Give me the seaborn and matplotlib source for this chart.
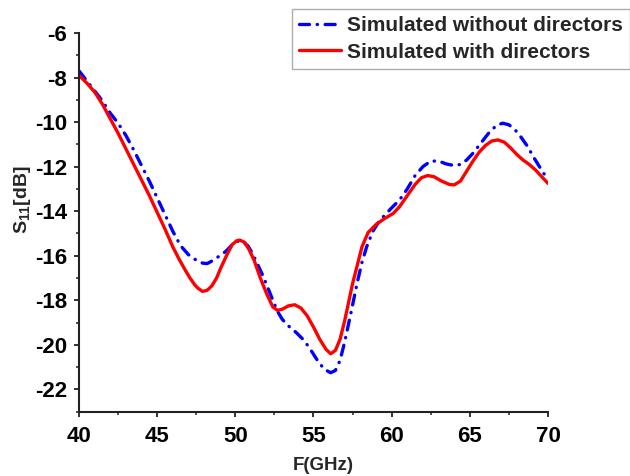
import numpy as np
import pandas as pd
import matplotlib
matplotlib.use("Agg")
import matplotlib.pyplot as plt
import seaborn as sns

# S11 of the antenna without directors (GHz, dB)
freq_without = [40, 40.5, 41, 41.5, 42, 42.5, 43, 43.5, 44, 44.5, 45, 45.5, 46, 46.5,
                47, 47.5, 47.9, 48.2, 48.6, 49.0, 49.4, 49.8, 50.1, 50.4, 50.8, 51.1,
                51.4, 51.7, 52.0, 52.4, 52.7, 53.0, 53.4, 53.9, 54.4, 54.8, 55.3,
                55.7, 56.1, 56.4, 56.7, 57.0, 57.4, 57.8, 58.1, 58.4, 58.8, 59.2,
                59.6, 60.0, 60.5, 61.0, 61.5, 62.0, 62.5, 63.0, 63.5, 64.0, 64.4,
                64.8, 65.2, 65.7, 66.2, 66.7, 67.1, 67.5, 67.9, 68.3, 68.7, 69.1,
                69.5, 70.0]
s11_without = [-7.7, -8.15, -8.6, -9.05, -9.6, -10.05, -10.6, -11.25, -11.95, -12.65,
               -13.4, -14.15, -14.9, -15.55, -15.95, -16.2, -16.33, -16.35, -16.2,
               -16.0, -15.8, -15.5, -15.35, -15.35, -15.55, -15.9, -16.35, -16.8,
               -17.3, -18.0, -18.5, -18.85, -19.15, -19.45, -19.8, -20.2, -20.75,
               -21.1, -21.25, -21.15, -20.7, -19.85, -18.55, -17.2, -16.3, -15.6,
               -14.9, -14.45, -14.15, -13.85, -13.5, -13.0, -12.4, -12.0, -11.75,
               -11.75, -11.88, -11.95, -11.9, -11.7, -11.4, -10.95, -10.5, -10.15,
               -10.05, -10.12, -10.35, -10.7, -11.1, -11.6, -12.05, -12.6]

# S11 of the antenna with directors (GHz, dB)
freq_with = [40, 40.5, 41, 41.5, 42, 42.5, 43, 43.5, 44, 44.5, 45, 45.5, 46, 46.4,
             46.8, 47.1, 47.4, 47.6, 47.9, 48.2, 48.5, 48.8, 49.1, 49.5, 49.8, 50.1,
             50.3, 50.6, 50.9, 51.2, 51.6, 52.0, 52.4, 52.7, 53.0, 53.4, 53.8, 54.2,
             54.6, 55.0, 55.4, 55.8, 56.1, 56.4, 56.7, 57.0, 57.5, 58.1, 58.5, 59.0,
             59.5, 60.1, 60.5, 61.0, 61.5, 61.9, 62.3, 62.7, 63.2, 63.7, 64.0, 64.4,
             64.8, 65.2, 65.6, 66.0, 66.4, 66.8, 67.2, 67.6, 68.0, 68.4, 68.8, 69.2,
             69.6, 70.0]
s11_with = [-7.9, -8.25, -8.65, -9.2, -9.85, -10.5, -11.2, -11.9, -12.6, -13.3,
            -14.05, -14.8, -15.6, -16.15, -16.65, -17.0, -17.3, -17.45, -17.6,
            -17.55, -17.35, -17.0, -16.5, -15.9, -15.5, -15.32, -15.3, -15.4,
            -15.75, -16.2, -17.0, -17.7, -18.3, -18.45, -18.4, -18.25, -18.2,
            -18.35, -18.7, -19.2, -19.75, -20.2, -20.4, -20.25, -19.75, -18.9,
            -17.25, -15.6, -14.95, -14.6, -14.35, -14.1, -13.8, -13.3, -12.8, -12.5,
            -12.4, -12.45, -12.65, -12.8, -12.82, -12.65, -12.2, -11.75, -11.35,
            -11.05, -10.85, -10.8, -10.9, -11.15, -11.45, -11.7, -11.9, -12.15,
            -12.45, -12.75]

label_without = "Simulated without directors"
label_with = "Simulated with directors"
x_ticks = [40, 45, 50, 55, 60, 65, 70]
y_ticks = [-22, -20, -18, -16, -14, -12, -10, -8, -6]

DASH_DOT = (3.0, 2.3, 0.1, 2.3)

sns.set_style("ticks")
plt.rcParams["font.family"] = ["Liberation Sans", "DejaVu Sans"]
plt.rcParams["font.weight"] = "bold"
plt.rcParams["mathtext.fontset"] = "custom"
plt.rcParams["mathtext.bf"] = "Liberation Sans:bold"
plt.rcParams["mathtext.rm"] = "Liberation Sans:bold"
plt.rcParams["mathtext.default"] = "bf"

fig = plt.figure(figsize=(6.3, 4.76), dpi=100)
ax = fig.add_axes([0.1254, 0.1351, 0.8698 - 0.1254, 0.9307 - 0.1351])

df_without = pd.DataFrame({"f": freq_without, "s11": s11_without})
df_with = pd.DataFrame({"f": freq_with, "s11": s11_with})

sns.lineplot(data=df_without, x="f", y="s11", ax=ax, color="#0000ff", lw=2.4,
             estimator=None, sort=False, label=label_without)
sns.lineplot(data=df_with, x="f", y="s11", ax=ax, color="#ff0000", lw=2.4,
             estimator=None, sort=False, label=label_with)

blue_line = ax.lines[0]
blue_line.set_dashes(DASH_DOT)
blue_line.set_dash_capstyle("round")
for ln in ax.lines:
    ln.set_solid_joinstyle("round")

ax.set_xlim(40, 70)
ax.set_ylim(-23, -6)
ax.set_xticks(x_ticks)
ax.set_yticks(y_ticks)
ax.set_xticks(np.arange(42.5, 70, 5), minor=True)
ax.set_yticks(np.arange(-23, -6, 2), minor=True)
ax.set_xticklabels([str(t) for t in x_ticks])
ax.set_yticklabels([str(t) for t in y_ticks])

sns.despine(ax=ax)
for side in ("left", "bottom"):
    ax.spines[side].set_linewidth(1.5)
    ax.spines[side].set_color("#222222")

ax.tick_params(axis="both", which="major", direction="out", length=3.5, width=1.3,
               color="#222222", labelsize=16, labelcolor="black")
ax.tick_params(axis="both", which="minor", direction="out", length=2.5, width=1.1,
               color="#222222")
ax.tick_params(axis="x", which="major", pad=7)
ax.tick_params(axis="y", which="major", pad=5)
for lbl in ax.get_xticklabels() + ax.get_yticklabels():
    lbl.set_fontweight("bold")

ax.set_xlabel("F(GHz)", fontsize=13.5, fontweight="bold")
ax.set_ylabel(r"S$_{11}$[dB]", fontsize=14, fontweight="bold")
ax.xaxis.set_label_coords(0.52, -0.12)
ax.yaxis.set_label_coords(-0.098, 0.56)

leg = ax.legend(loc="upper right", bbox_to_anchor=(1.0, 1 - 9 / 476),
                bbox_transform=fig.transFigure, frameon=True, fancybox=False,
                prop={"weight": "bold", "size": 15}, handlelength=2.0,
                handletextpad=0.3, borderpad=0.35, labelspacing=0.35,
                borderaxespad=0)
leg.get_frame().set_edgecolor("#999999")
leg.get_frame().set_linewidth(1.0)
leg_lines = leg.get_lines()
leg_lines[0].set_dashes(DASH_DOT)
leg_lines[0].set_dash_capstyle("round")

fig.savefig("out.png", dpi=100)
